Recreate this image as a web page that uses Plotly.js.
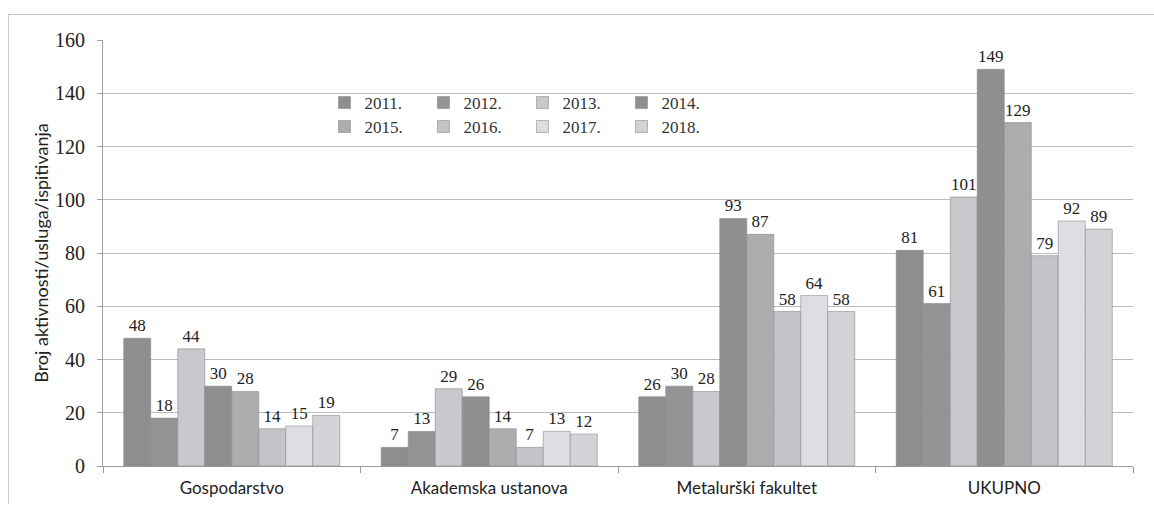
<!DOCTYPE html>
<html>
<head>
<meta charset="utf-8">
<script src="https://cdn.plot.ly/plotly-3.0.1.min.js"></script>
<style>
  html, body { margin: 0; padding: 0; background: #fff; }
  #wrap { position: relative; width: 1154px; height: 506px; }
  #chart { position: absolute; left: 0; top: 0; width: 1154px; height: 506px; }
  #frame { position: absolute; left: 8px; top: 14px; width: 1146px; height: 489px;
           border-top: 1px solid #c4c4c4; border-left: 1px solid #cfcfcf; pointer-events: none; }
</style>
</head>
<body>
<div id="wrap">
  <div id="chart"></div>
  <div id="frame"></div>
</div>
<script>
const categories = ["Gospodarstvo", "Akademska ustanova", "Metalurški fakultet", "UKUPNO"];
const years = ["2011.", "2012.", "2013.", "2014.", "2015.", "2016.", "2017.", "2018."];
const v2011 = [48, 7, 26, 81];
const v2012 = [18, 13, 30, 61];
const v2013 = [44, 29, 28, 101];
const v2014 = [30, 26, 93, 149];
const v2015 = [28, 14, 87, 129];
const v2016 = [14, 7, 58, 79];
const v2017 = [15, 13, 64, 92];
const v2018 = [19, 12, 58, 89];
const series = [v2011, v2012, v2013, v2014, v2015, v2016, v2017, v2018];
const colors = ["#8e8e90", "#949496", "#c9c9cd", "#8f8f91", "#adadb0", "#c4c4c8", "#dedee2", "#d2d2d7"];

const serif = "'Liberation Serif', 'DejaVu Serif', serif";
const sans = "Lato, 'Noto Sans', sans-serif";

const traces = series.map((vals, i) => ({
  type: "bar",
  name: years[i],
  x: categories,
  y: vals,
  text: vals.map(String),
  textposition: "outside",
  textfont: { family: serif, size: 17, color: "#222" },
  constraintext: "none",
  cliponaxis: false,
  marker: { color: colors[i], line: { color: "#8a8a8a", width: 0.6 } },
  legend: i < 4 ? "legend" : "legend2",
  hoverinfo: "x+y+name"
}));

const legendCommon = {
  orientation: "h",
  xanchor: "left",
  yanchor: "middle",
  bgcolor: "rgba(0,0,0,0)",
  font: { family: serif, size: 17, color: "#333" },
  entrywidth: 54,
  entrywidthmode: "pixels",
  itemwidth: 30,
  tracegroupgap: 0
};

const layout = {
  width: 1154,
  height: 506,
  margin: { l: 103, r: 21, t: 40, b: 40 },
  paper_bgcolor: "#fff",
  plot_bgcolor: "#fff",
  barmode: "group",
  bargap: 0.161,
  bargroupgap: 0,
  showlegend: true,
  legend: Object.assign({}, legendCommon, { x: 0.215, y: 0.852 }),
  legend2: Object.assign({}, legendCommon, { x: 0.215, y: 0.796 }),
  xaxis: {
    type: "category",
    showgrid: false,
    showline: true,
    linecolor: "#9a9a9a",
    linewidth: 1,
    ticks: "outside",
    tickson: "boundaries",
    ticklen: 6,
    tickcolor: "#9a9a9a",
    tickfont: { family: sans, size: 17, color: "#222" },
    ticklabelstandoff: 7,
    automargin: false
  },
  yaxis: {
    range: [0, 160],
    dtick: 20,
    tick0: 0,
    showgrid: true,
    gridcolor: "#bcbcbc",
    gridwidth: 1,
    zeroline: false,
    showline: true,
    linecolor: "#a0a0a0",
    linewidth: 1,
    ticks: "outside",
    ticklen: 5,
    tickcolor: "#a0a0a0",
    tickfont: { family: serif, size: 20, color: "#222" },
    ticklabelstandoff: 8,
    automargin: false,
    title: { text: "Broj aktivnosti/usluga/ispitivanja", font: { family: sans, size: 18, color: "#222" }, standoff: 1 }
  }
};

Plotly.newPlot("chart", traces, layout, { displayModeBar: false, staticPlot: true });
</script>
</body>
</html>
